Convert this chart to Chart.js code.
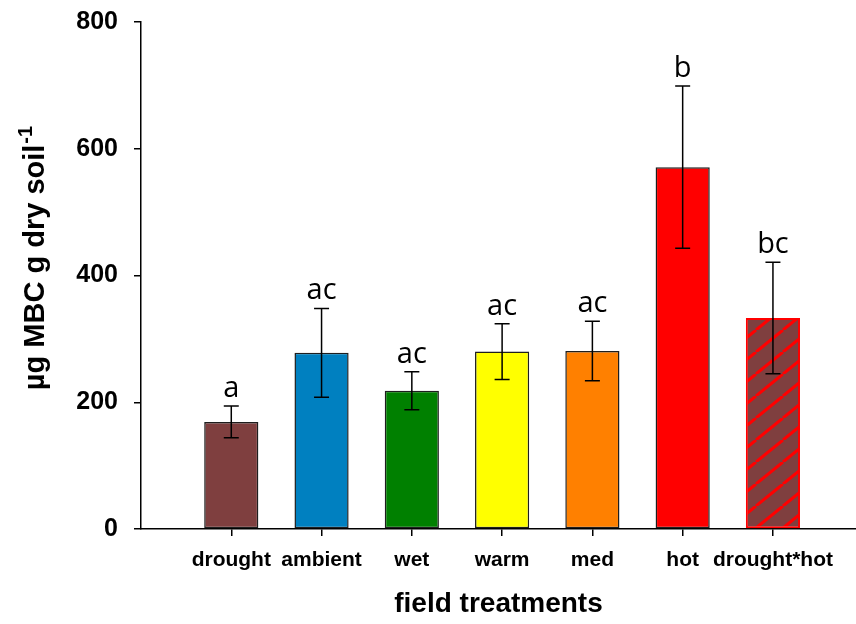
<!DOCTYPE html>
<html>
<head>
<meta charset="utf-8">
<title>MBC by field treatment</title>
<script src="https://cdn.jsdelivr.net/npm/chart.js@4.4.1/dist/chart.umd.min.js"></script>
<style>
  html, body { margin: 0; padding: 0; background: #fff; }
  #wrap { width: 856px; height: 624px; }
</style>
</head>
<body>
<div id="wrap"><canvas id="mbc" width="856" height="624"></canvas></div>
<script>
const treatments = ['drought', 'ambient', 'wet', 'warm', 'med', 'hot', 'drought*hot'];
const mbcMean = [169, 278, 218, 280, 281, 571, 333];
const mbcSE = [25, 70, 30, 44, 47, 128, 88];
const groupLetters = ['a', 'ac', 'ac', 'ac', 'ac', 'b', 'bc'];
const yTicks = [0, 200, 400, 600, 800];

const barColors = ['#7f3f3f', '#0080c0', '#008000', '#ffff00', '#ff8000', '#ff0000', null];

// red diagonal hatch over brown for the combined treatment
function hatchPattern() {
  const w = 27, h = 22;
  const c = document.createElement('canvas');
  c.width = w; c.height = h;
  const g = c.getContext('2d');
  g.fillStyle = '#7f3f3f';
  g.fillRect(0, 0, w, h);
  g.strokeStyle = '#ff0000';
  g.lineWidth = 3;
  g.beginPath();
  for (const dx of [-w, 0, w]) {
    g.moveTo(dx, h);
    g.lineTo(dx + w, 0);
  }
  g.stroke();
  return g.createPattern(c, 'repeat');
}

const fills = barColors.map(c => c || hatchPattern());
const borders = barColors.map(c => c ? '#1e1e1e' : '#ff0000');

const errorBars = {
  id: 'errorBars',
  afterDatasetsDraw(chart) {
    const { ctx, scales: { y } } = chart;
    const meta = chart.getDatasetMeta(0);
    ctx.save();
    ctx.strokeStyle = '#000';
    ctx.lineWidth = 1.5;
    meta.data.forEach((bar, i) => {
      const hi = y.getPixelForValue(mbcMean[i] + mbcSE[i]);
      const lo = y.getPixelForValue(mbcMean[i] - mbcSE[i]);
      const x = bar.x, cap = 7.5;
      ctx.beginPath();
      ctx.moveTo(x, hi); ctx.lineTo(x, lo);
      ctx.moveTo(x - cap, hi); ctx.lineTo(x + cap, hi);
      ctx.moveTo(x - cap, lo); ctx.lineTo(x + cap, lo);
      ctx.stroke();
    });
    ctx.fillStyle = '#000';
    ctx.font = '29px "Open Sans", sans-serif';
    ctx.textAlign = 'center';
    ctx.textBaseline = 'alphabetic';
    meta.data.forEach((bar, i) => {
      const hi = y.getPixelForValue(mbcMean[i] + mbcSE[i]);
      ctx.fillText(groupLetters[i], bar.x, hi - 9);
    });
    ctx.restore();
  }
};

// rotated y title with a superscript -1
const yTitle = {
  id: 'yTitle',
  afterDraw(chart) {
    const { ctx } = chart;
    const main = 'µg MBC g dry soil';
    const sup = '-1';
    const big = 'bold 29px "Liberation Sans", Arial, sans-serif';
    const small = 'bold 20px "Liberation Sans", Arial, sans-serif';
    ctx.save();
    ctx.font = big;
    const wMain = ctx.measureText(main).width;
    ctx.font = small;
    const wSup = ctx.measureText(sup).width;
    const total = wMain + wSup + 1;
    ctx.translate(44, 258);
    ctx.rotate(-Math.PI / 2);
    ctx.fillStyle = '#000';
    ctx.textBaseline = 'alphabetic';
    ctx.textAlign = 'left';
    ctx.font = big;
    ctx.fillText(main, -total / 2, 0);
    ctx.font = small;
    ctx.fillText(sup, -total / 2 + wMain + 1, -12);
    ctx.restore();
  }
};

new Chart(document.getElementById('mbc'), {
  type: 'bar',
  data: {
    datasets: [{
      data: mbcMean.map((v, i) => ({ x: i, y: v })),
      backgroundColor: fills,
      borderColor: borders,
      borderWidth: barColors.map(c => c ? 1.5 : 2),
      borderSkipped: false,
      categoryPercentage: 1,
      barPercentage: 0.6,
    }],
  },
  options: {
    responsive: false,
    animation: false,
    events: [],
    layout: { padding: { top: 22, right: 0, bottom: 0, left: 0 } },
    plugins: { legend: { display: false }, tooltip: { enabled: false } },
    scales: {
      x: {
        type: 'linear',
        offset: false,
        min: -1,
        max: 6.92,
        afterBuildTicks: s => { s.ticks = treatments.map((_, i) => ({ value: i })); },
        afterFit: s => { s.height = 95; s.paddingLeft = 0; s.paddingRight = 0; },
        ticks: {
          autoSkip: false,
          maxRotation: 0,
          padding: 12,
          color: '#000',
          font: { family: '"Liberation Sans", Arial, sans-serif', size: 21, weight: 'bold' },
          callback: v => treatments[v],
        },
        grid: { offset: false, drawOnChartArea: false, drawTicks: true, tickLength: 7, color: '#000', lineWidth: 1.5 },
        border: { color: '#000', width: 1.5 },
        title: {
          display: true,
          text: 'field treatments',
          color: '#000',
          font: { family: '"Liberation Sans", Arial, sans-serif', size: 28, weight: 'bold', lineHeight: 1.2 },
          padding: { top: 0, bottom: 3 },
        },
      },
      y: {
        min: 0,
        max: 800,
        afterBuildTicks: s => { s.ticks = yTicks.map(v => ({ value: v })); },
        afterFit: s => { s.width = 141; s.paddingTop = 0; s.paddingBottom = 0; },
        ticks: {
          padding: 16,
          color: '#000',
          font: { family: '"Liberation Sans", Arial, sans-serif', size: 25, weight: 'bold' },
        },
        grid: { drawOnChartArea: false, drawTicks: true, tickLength: 7, color: '#000', lineWidth: 1.5 },
        border: { color: '#000', width: 1.5 },
      },
    },
  },
  plugins: [errorBars, yTitle],
});
</script>
</body>
</html>
